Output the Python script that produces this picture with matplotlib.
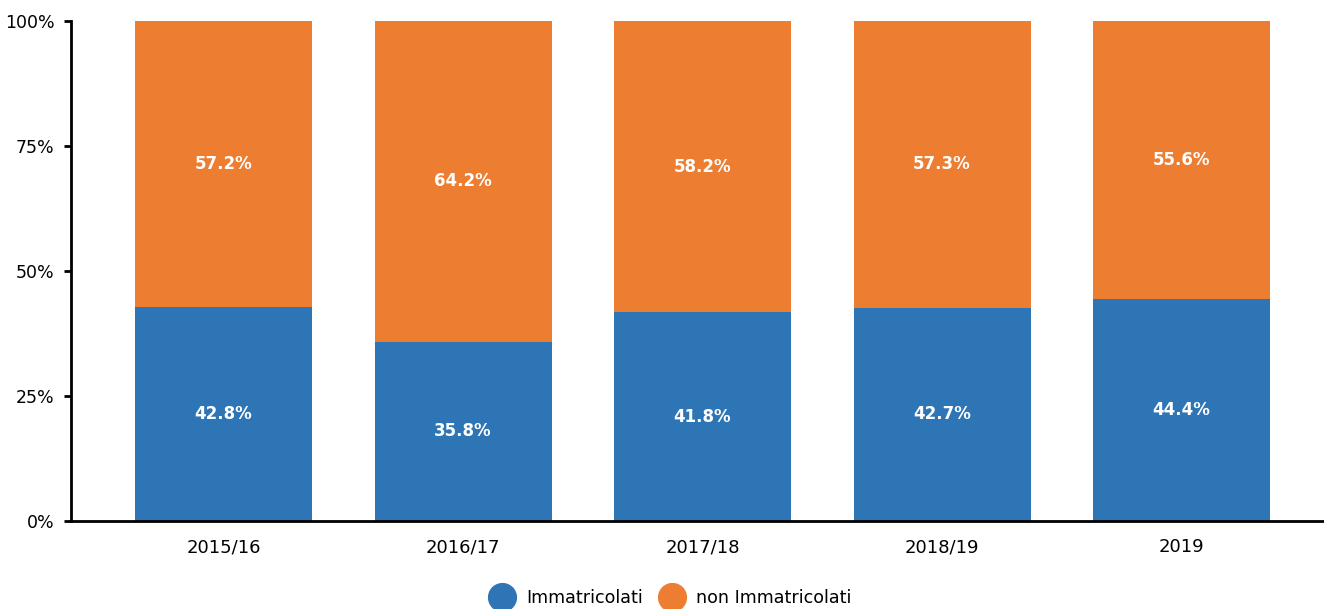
import matplotlib
matplotlib.use("Agg")
import matplotlib.pyplot as plt
from matplotlib.lines import Line2D

plt.rcParams["font.family"] = ["DejaVu Sans"]

categories = ["2015/16", "2016/17", "2017/18", "2018/19", "2019"]
immatricolati = [42.8, 35.8, 41.8, 42.7, 44.4]
non_immatricolati = [57.2, 64.2, 58.2, 57.3, 55.6]
yticks = [0, 25, 50, 75, 100]
ytick_labels = ["0%", "25%", "50%", "75%", "100%"]

blue = "#2e75b6"
orange = "#ed7d31"

fig = plt.figure(figsize=(13.24, 6.09), dpi=100)
ax = fig.add_axes([71/1324, 1-521/609, 1-71/1324, 500/609])

x = list(range(len(categories)))
w = 0.739
ax.bar(x, immatricolati, width=w, color=blue, zorder=2)
ax.bar(x, non_immatricolati, width=w, bottom=immatricolati, color=orange, zorder=2)

for i in x:
    a = immatricolati[i]
    b = non_immatricolati[i]
    ax.text(i, a/2, f"{a:.1f}%", ha="center", va="center", color="white",
            fontsize=12, fontweight="bold")
    ax.text(i, a + b/2, f"{b:.1f}%", ha="center", va="center", color="white",
            fontsize=12, fontweight="bold")

ax.set_xlim(-0.637, 4.595)
ax.set_ylim(0, 100)
ax.set_yticks(yticks)
ax.set_yticklabels(ytick_labels)
ax.set_xticks(x)
ax.set_xticklabels(categories, va="baseline")
ax.tick_params(axis="y", length=5, width=2, labelsize=12.5, pad=7)
ax.tick_params(axis="x", length=0, labelsize=13, pad=22.5)
for s in ["top", "right"]:
    ax.spines[s].set_visible(False)
ax.spines["left"].set_linewidth(2)
ax.spines["bottom"].set_linewidth(2)

handles = [Line2D([], [], marker="o", linestyle="none", markersize=20, color=blue),
           Line2D([], [], marker="o", linestyle="none", markersize=20, color=orange)]
fig.legend(handles, ["Immatricolati", "non Immatricolati"], loc="center",
           bbox_to_anchor=(668/1324, 1-598/609), ncol=2, frameon=False,
           fontsize=12.6, handletextpad=0.35, columnspacing=0.7)

fig.savefig("out.png", dpi=100)
